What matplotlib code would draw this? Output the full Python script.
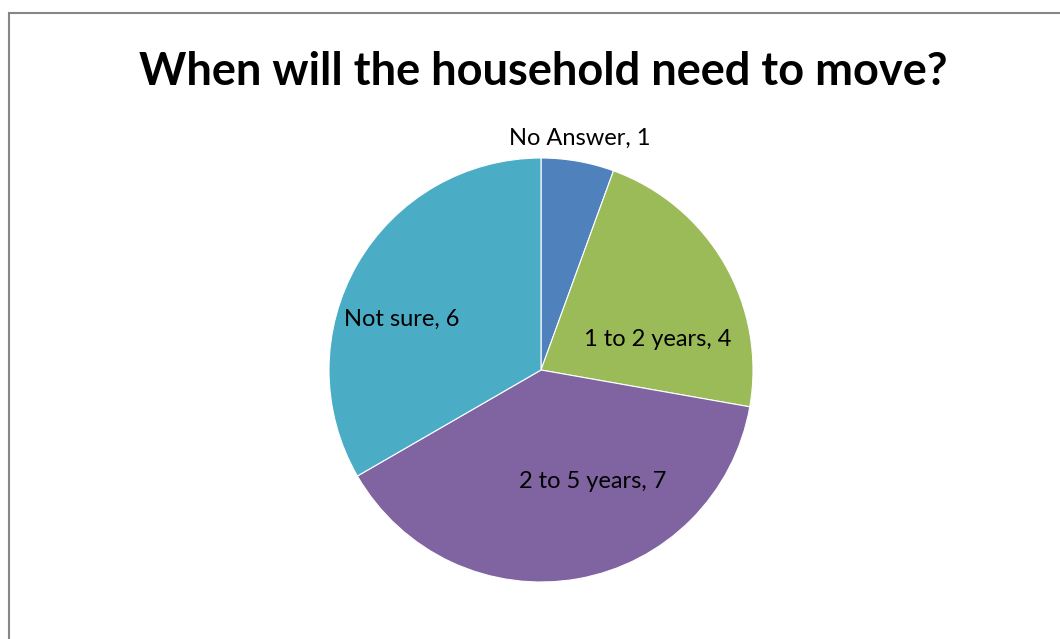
import matplotlib.pyplot as plt
import numpy as np
from matplotlib.patches import Rectangle

# Data
labels = ['No Answer', '1 to 2 years', '2 to 5 years', 'Not sure']
counts = [1, 4, 7, 6]
colors = ['#4F81BD', '#9BBB59', '#8064A2', '#4BACC6']

# label placement (fraction of radius, clockwise angle from top in degrees)
label_r = [1.11, 0.57, 0.58, 0.70]
label_ang = [9.5, 75.5, 155, 290]

plt.rcParams['font.family'] = ['Lato', 'DejaVu Sans']

fig = plt.figure(figsize=(10.6, 6.39), dpi=100)
ax = fig.add_axes([0, 0, 1, 1])

# chart border (only top and left visible)
ax.add_patch(Rectangle((8.5, -20), 1100, 639 - 12.5 + 20, fill=False,
                       edgecolor='#868686', linewidth=1.5))

cx, cy, R = 541, 639 - 370, 212
wedges, texts = ax.pie(counts, colors=colors, startangle=90, counterclock=False,
                       center=(cx, cy), radius=R, frame=True,
                       wedgeprops=dict(edgecolor='white', linewidth=0.8))
ax.set_xlim(0, 1060)
ax.set_ylim(0, 639)
ax.set_aspect('equal')
ax.axis('off')

for lab, n, r, a in zip(labels, counts, label_r, label_ang):
    t = np.deg2rad(a)
    ax.text(cx + r * R * np.sin(t), cy + r * R * np.cos(t), f'{lab}, {n}',
            ha='center', va='center', fontsize=17, color='black')

ax.text(543, 639 - 72, 'When will the household need to move?', ha='center',
        va='center', fontsize=32.5, fontweight='bold')

fig.savefig('out.png', dpi=100)
